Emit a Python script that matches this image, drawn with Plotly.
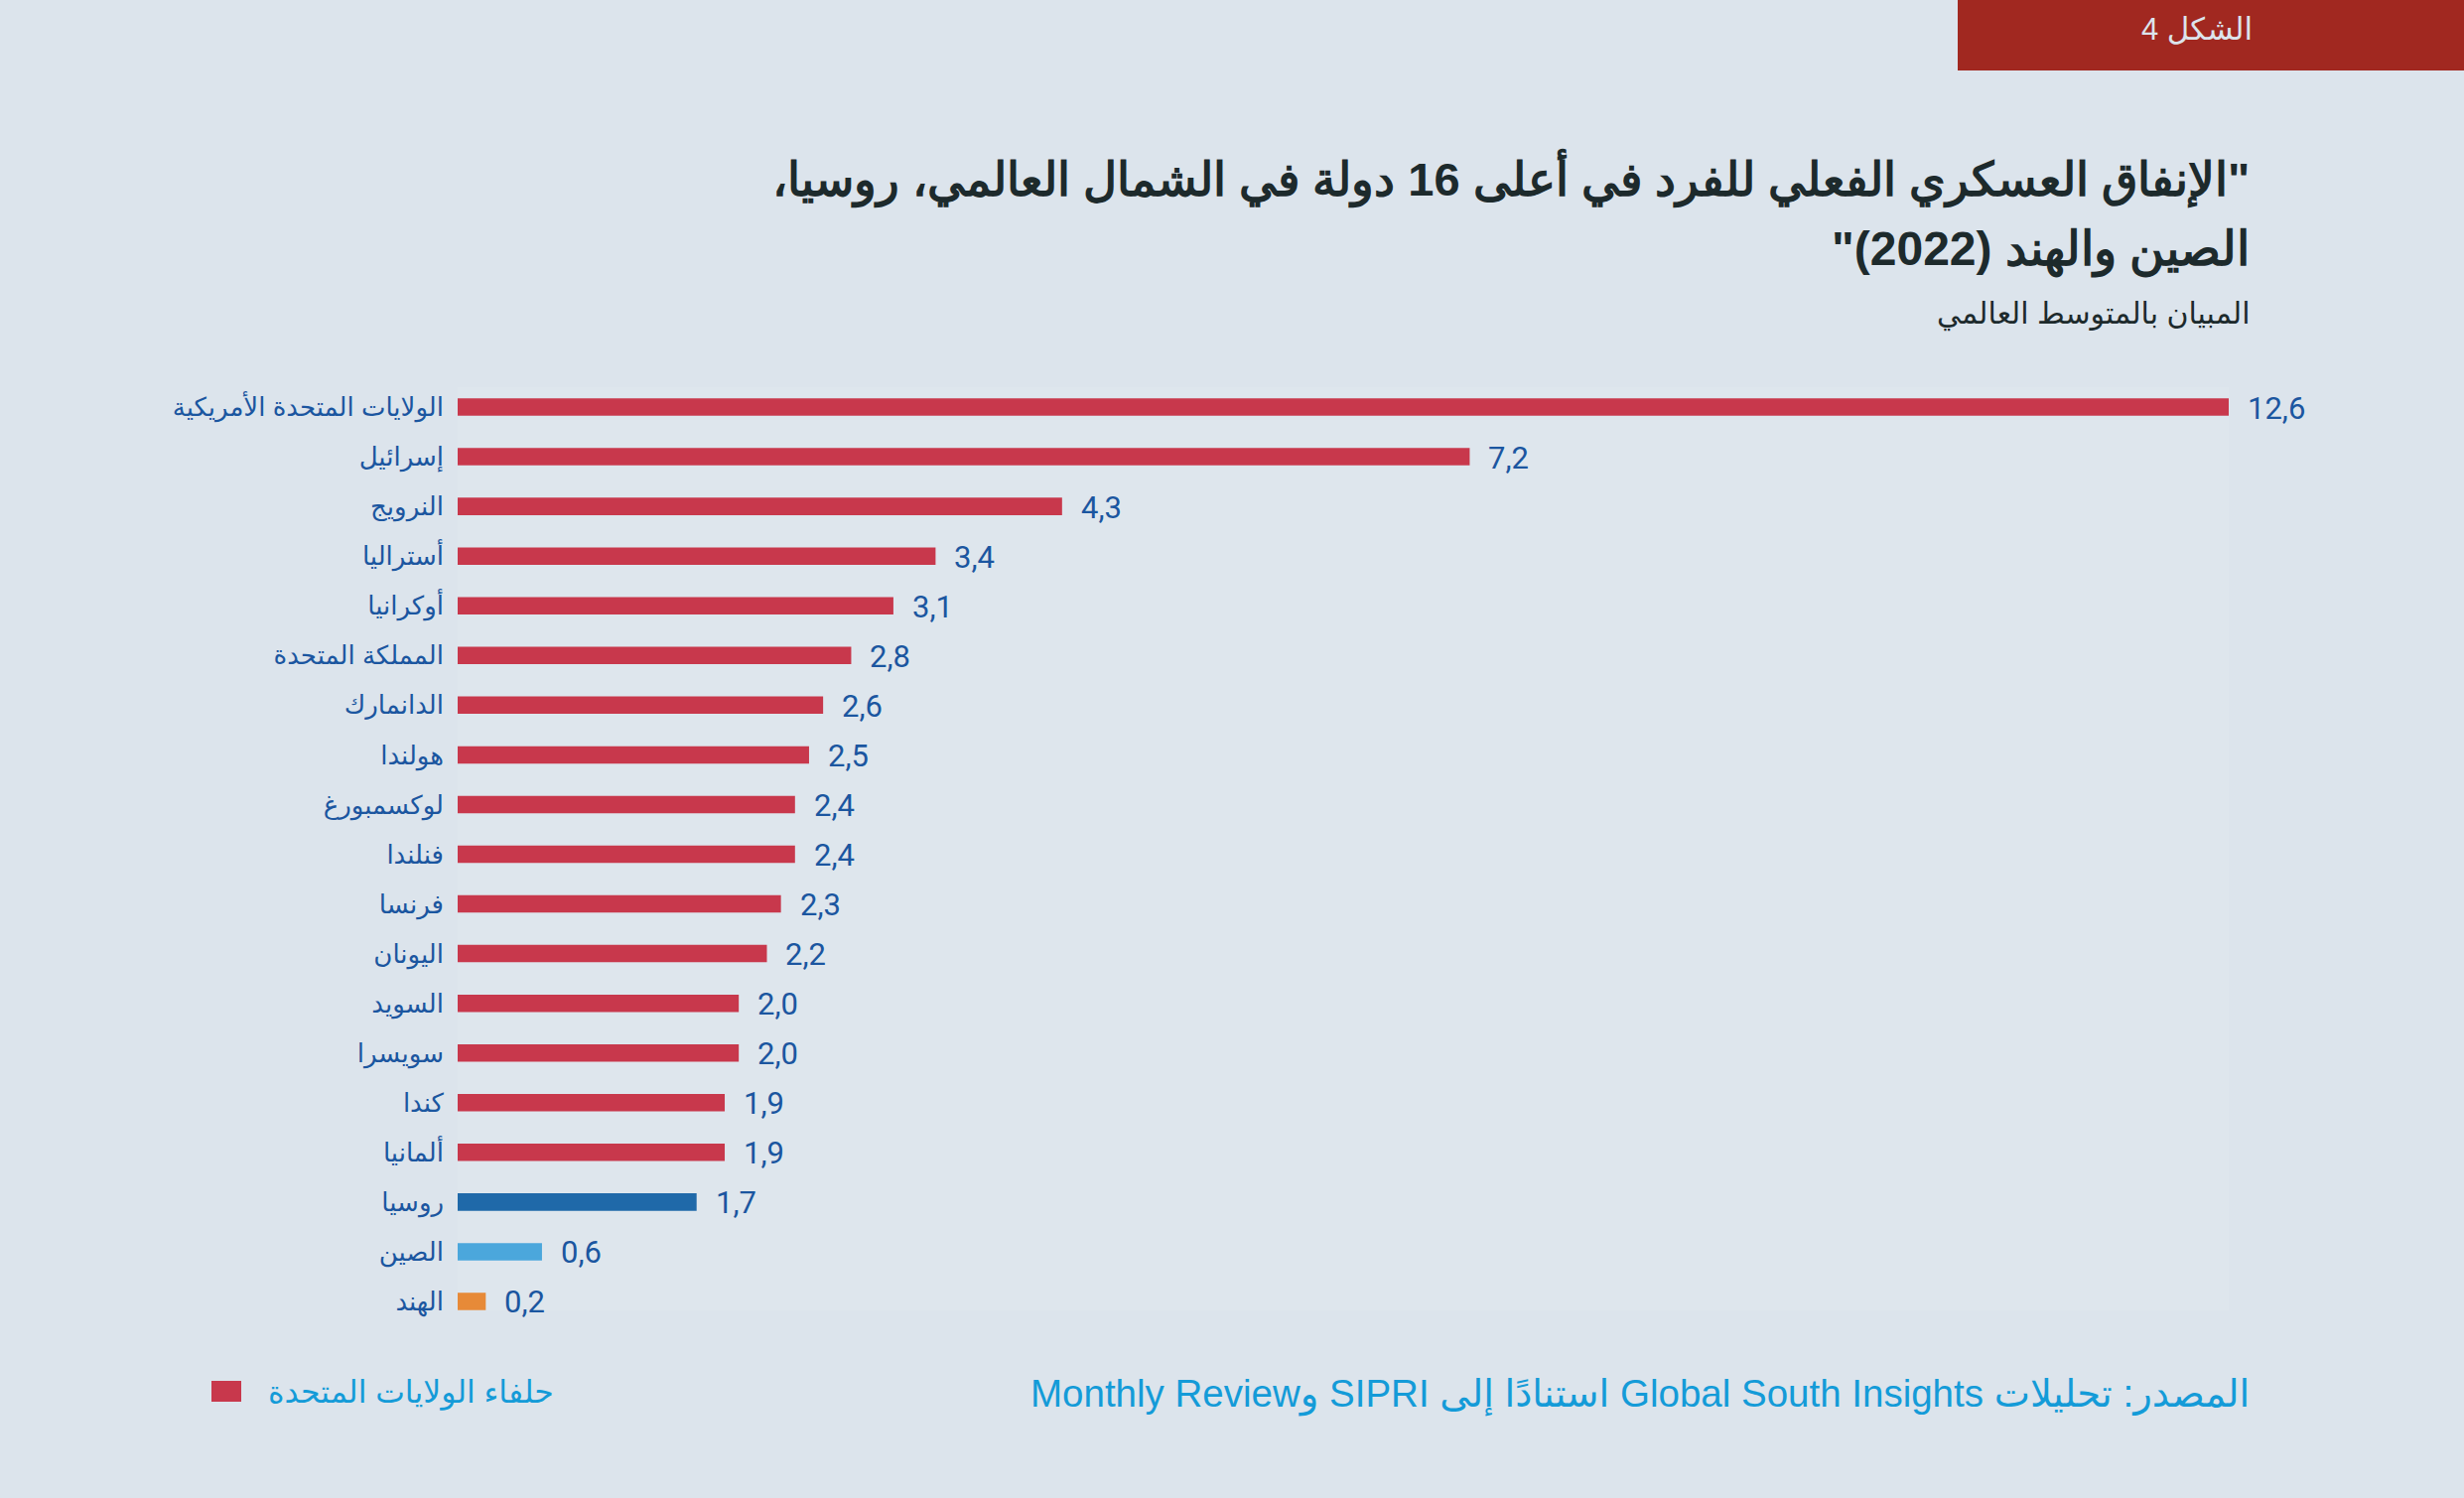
import plotly.graph_objects as go

# ---------------- data ----------------
countries = [
    "الولايات المتحدة الأمريكية", "إسرائيل", "النرويج", "أستراليا", "أوكرانيا",
    "المملكة المتحدة", "الدانمارك", "هولندا", "لوكسمبورغ", "فنلندا", "فرنسا",
    "اليونان", "السويد", "سويسرا", "كندا", "ألمانيا", "روسيا", "الصين", "الهند",
]
values = [12.6, 7.2, 4.3, 3.4, 3.1, 2.8, 2.6, 2.5, 2.4, 2.4, 2.3,
          2.2, 2.0, 2.0, 1.9, 1.9, 1.7, 0.6, 0.2]
groups = ["ally"] * 16 + ["russia", "china", "india"]

title_line1 = "\"الإنفاق العسكري الفعلي للفرد في أعلى 16 دولة في الشمال العالمي، روسيا،"
title_line2 = "الصين والهند (2022)\""
subtitle = "المبيان بالمتوسط العالمي"
figure_tag = "الشكل 4"
legend_label = "حلفاء الولايات المتحدة"
source_text = "المصدر: تحليلات Global South Insights استنادًا إلى SIPRI وMonthly Review"

# ---------------- style ----------------
group_colors = {"ally": "#c8384c", "russia": "#1f69a9", "china": "#4ba7dc", "india": "#e78a38"}
W, H = 2482, 1509
L, R, T, B = 461, 2245, 390, 1320
PAPER = "#dce4ec"
PLOTBG = "#dee6ed"
LABEL_BLUE = "#1b56a0"
SRC_BLUE = "#149bd8"
TITLE_C = "#1d2a2c"
AR = "Liberation Sans, DejaVu Sans, sans-serif"
ARB = "Liberation Sans Narrow, Liberation Sans, sans-serif"
NUM = "Roboto, DejaVu Sans, sans-serif"


def rtl(s):
    return "\u202B" + s + "\u202C"


def px(xp):
    return (xp - L) / (R - L)


def py(yp):
    return (B - yp) / (B - T)


fig = go.Figure()
fig.add_trace(go.Bar(
    y=[rtl(c) for c in countries],
    x=values,
    orientation="h",
    width=0.35,
    marker=dict(color=[group_colors[g] for g in groups], line=dict(width=0)),
    hoverinfo="x+y",
    showlegend=False,
))

annotations = []
for c, v in zip(countries, values):
    annotations.append(dict(
        x=v, y=rtl(c), xref="x", yref="y", text=f"{v:.1f}".replace(".", ","),
        showarrow=False, xanchor="left", yanchor="middle", xshift=17, yshift=-1,
        font=dict(family=NUM, size=31, color=LABEL_BLUE),
    ))

# Titles
annotations += [
    dict(x=px(2268), y=py(179), xref="paper", yref="paper", text="<b>" + rtl(title_line1) + "</b>",
         showarrow=False, xanchor="right", yanchor="middle",
         font=dict(family=ARB, size=47, color=TITLE_C)),
    dict(x=px(2268), y=py(252), xref="paper", yref="paper", text="<b>" + rtl(title_line2) + "</b>",
         showarrow=False, xanchor="right", yanchor="middle",
         font=dict(family=ARB, size=48, color=TITLE_C)),
    dict(x=px(2268), y=py(316), xref="paper", yref="paper", text=rtl(subtitle),
         showarrow=False, xanchor="right", yanchor="middle",
         font=dict(family=AR, size=30, color=TITLE_C)),
    dict(x=px(2213), y=py(30), xref="paper", yref="paper", text=rtl(figure_tag),
         showarrow=False, xanchor="center", yanchor="middle",
         font=dict(family=AR, size=31, color="#dce4ec")),
    dict(x=px(268), y=py(1402), xref="paper", yref="paper", text=rtl(legend_label),
         showarrow=False, xanchor="left", yanchor="middle",
         font=dict(family=AR, size=31.5, color=SRC_BLUE)),
    dict(x=px(2268), y=py(1404), xref="paper", yref="paper", text=rtl(source_text),
         showarrow=False, xanchor="right", yanchor="middle",
         font=dict(family=AR, size=38.5, color=SRC_BLUE)),
]

shapes = [
    dict(type="rect", xref="paper", yref="paper", x0=px(1972), x1=px(2482),
         y0=py(0), y1=py(71), fillcolor="#a12820", line=dict(width=0), layer="above"),
    dict(type="rect", xref="paper", yref="paper", x0=px(213), x1=px(243),
         y0=py(1391), y1=py(1412), fillcolor=group_colors["ally"], line=dict(width=0)),
]

fig.update_layout(
    width=W, height=H,
    margin=dict(l=L, r=W - R, t=T, b=H - B, pad=0),
    paper_bgcolor=PAPER, plot_bgcolor=PLOTBG,
    separators=", ",
    bargap=0.65,
    xaxis=dict(range=[0, 12.6], visible=False, fixedrange=True),
    yaxis=dict(
        type="category", categoryorder="array",
        categoryarray=[rtl(c) for c in countries],
        range=[18.18, -0.4], showgrid=False, zeroline=False, showline=False,
        ticks="", ticklabelstandoff=13, fixedrange=True,
        tickfont=dict(family=AR, size=26, color=LABEL_BLUE),
    ),
    annotations=annotations,
    shapes=shapes,
)

fig.write_html(
    "out.html",
    config={"displayModeBar": False},
    post_script="document.body.style.margin='0';document.body.style.overflow='hidden';",
)
